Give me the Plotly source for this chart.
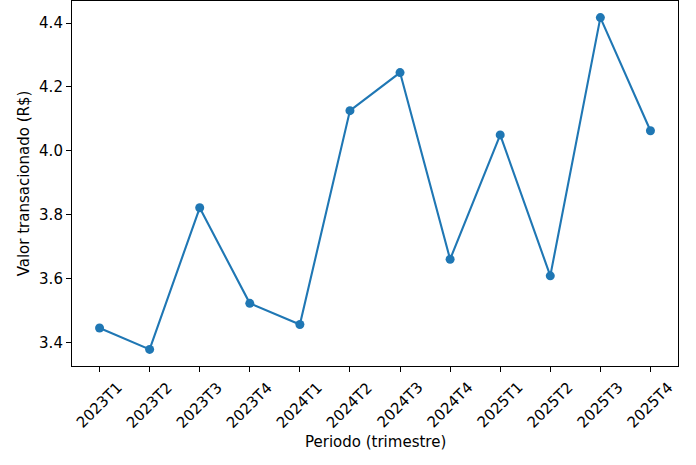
import plotly.graph_objects as go

# Valor transacionado por trimestre
periodos = ["2023T1", "2023T2", "2023T3", "2023T4",
            "2024T1", "2024T2", "2024T3", "2024T4",
            "2025T1", "2025T2", "2025T3", "2025T4"]
valores = [3.446, 3.379, 3.822, 3.523,
           3.457, 4.126, 4.245, 3.661,
           4.050, 3.609, 4.417, 4.063]

y_ticks = [3.4, 3.6, 3.8, 4.0, 4.2, 4.4]

AZUL = "#1f77b4"
FONTE = dict(family="DejaVu Sans", size=15, color="#000000")

fig = go.Figure()

fig.add_trace(go.Scatter(
    x=periodos, y=valores,
    mode="lines+markers",
    line=dict(color=AZUL, width=2.1),
    marker=dict(color=AZUL, size=9),
    hoverinfo="x+y",
))

# rótulos do eixo x girados 45°, centrados no tick (como no matplotlib)
for p in periodos:
    fig.add_annotation(
        x=p, y=0, xref="x", yref="paper",
        text=p, textangle=-45, showarrow=False,
        xanchor="center", yanchor="top", yshift=-10,
        font=FONTE,
    )

fig.add_annotation(
    x=0.5, y=0, xref="paper", yref="paper",
    text="Periodo (trimestre)", showarrow=False,
    xanchor="center", yanchor="top", yshift=-65,
    font=FONTE,
)

fig.update_layout(
    width=696, height=465,
    margin=dict(l=72, r=18, t=1, b=99),
    plot_bgcolor="white", paper_bgcolor="white",
    showlegend=False,
    font=FONTE,
)

fig.update_xaxes(
    type="category", range=[-0.55, len(periodos) - 0.45],
    showgrid=False, zeroline=False, showticklabels=False,
    showline=True, linecolor="#000000", linewidth=1.1, mirror=True,
    ticks="outside", ticklen=5, tickwidth=1.1, tickcolor="#000000",
)

fig.update_yaxes(
    range=[3.327, 4.469],
    tickvals=y_ticks, ticktext=[f"{v:.1f}" for v in y_ticks],
    showgrid=False, zeroline=False,
    showline=True, linecolor="#000000", linewidth=1.1, mirror=True,
    ticks="outside", ticklen=5, tickwidth=1.1, tickcolor="#000000",
    tickfont=FONTE,
    title=dict(text="Valor transacionado (R$)", font=FONTE, standoff=5),
)

# sem margem do <body>, para a figura ocupar a janela inteira
fig.write_html("out.html", config={"displayModeBar": False},
               post_script="document.body.style.margin='0';")
